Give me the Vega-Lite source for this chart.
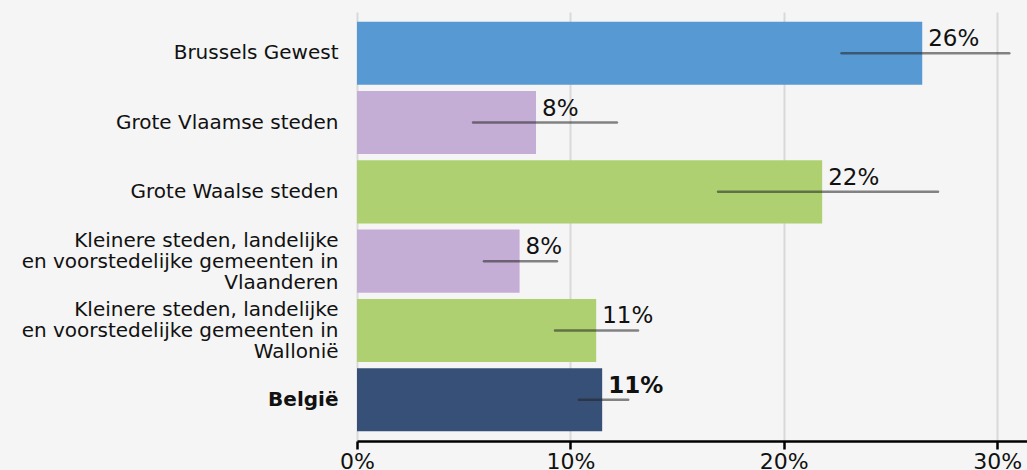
{
  "$schema": "https://vega.github.io/schema/vega-lite/v6.json",
  "autosize": {"type": "none"},
  "width": 670,
  "height": 429,
  "padding": {"left": 357, "top": 12, "right": 0, "bottom": 29},
  "background": "#f5f5f5",
  "config": {
    "view": {"stroke": null},
    "font": "DejaVu Sans"
  },
  "data": {
    "values": [
      {"regio": "Brussels Gewest", "waarde": 0.2649, "laag": 0.2271, "hoog": 0.3057, "groep": "Brussel"},
      {"regio": "Grote Vlaamse steden", "waarde": 0.0839, "laag": 0.0544, "hoog": 0.1218, "groep": "Vlaanderen"},
      {"regio": "Grote Waalse steden", "waarde": 0.218, "laag": 0.1692, "hoog": 0.2723, "groep": "Wallonië"},
      {"regio": "Kleinere steden, landelijke en voorstedelijke gemeenten in Vlaanderen", "waarde": 0.0762, "laag": 0.0595, "hoog": 0.0937, "groep": "Vlaanderen"},
      {"regio": "Kleinere steden, landelijke en voorstedelijke gemeenten in Wallonië", "waarde": 0.1121, "laag": 0.0928, "hoog": 0.1317, "groep": "Wallonië"},
      {"regio": "België", "waarde": 0.1149, "laag": 0.104, "hoog": 0.1271, "groep": "België"}
    ]
  },
  "encoding": {
    "y": {
      "field": "regio",
      "type": "nominal",
      "sort": null,
      "title": null,
      "scale": {"paddingInner": 0.09, "paddingOuter": 0.14},
      "axis": {
        "domain": false,
        "ticks": false,
        "labelFontSize": 20,
        "labelColor": "#111",
        "labelPadding": 19,
        "labelLimit": 400,
        "labelLineHeight": 21,
        "labelOffset": {"condition": {"test": "indexof(datum.value, 'Kleinere') >= 0", "value": -20}, "value": 0},
        "labelFontWeight": {"condition": {"test": "datum.value == 'België'", "value": "bold"}, "value": "normal"},
        "labelExpr": "indexof(datum.value, 'Vlaanderen') >= 0 && indexof(datum.value, 'Kleinere') >= 0 ? ['Kleinere steden, landelijke', 'en voorstedelijke gemeenten in', 'Vlaanderen'] : indexof(datum.value, 'Kleinere') >= 0 ? ['Kleinere steden, landelijke', 'en voorstedelijke gemeenten in', 'Wallonië'] : datum.value"
      }
    }
  },
  "layer": [
    {
      "mark": {"type": "bar"},
      "encoding": {
        "x": {
          "field": "waarde",
          "type": "quantitative",
          "title": null,
          "scale": {"domain": [0, 0.314], "nice": false},
          "axis": {
            "values": [0, 0.1, 0.2, 0.3],
            "format": ".0%",
            "grid": true,
            "gridColor": "#d9d9d9",
            "gridWidth": 2,
            "domainColor": "#000",
            "domainWidth": 2.5,
            "tickColor": "#000",
            "tickWidth": 2.5,
            "tickSize": 8,
            "labelFontSize": 22,
            "labelColor": "#111",
            "labelPadding": 2,
            "labelFlush": false
          }
        },
        "color": {
          "field": "groep",
          "type": "nominal",
          "legend": null,
          "scale": {
            "domain": ["Brussel", "Vlaanderen", "Wallonië", "België"],
            "range": ["#5799d3", "#c4aed5", "#aed071", "#365078"]
          }
        }
      }
    },
    {
      "mark": {"type": "rule", "color": "#222", "opacity": 0.55, "strokeWidth": 2.5, "strokeCap": "round"},
      "encoding": {
        "x": {"field": "laag", "type": "quantitative"},
        "x2": {"field": "hoog"}
      }
    },
    {
      "transform": [{"filter": "datum.regio != 'België'"}],
      "mark": {"type": "text", "align": "left", "baseline": "alphabetic", "dx": 6, "dy": -7, "fontSize": 23, "color": "#111"},
      "encoding": {
        "x": {"field": "waarde", "type": "quantitative"},
        "text": {"field": "waarde", "type": "quantitative", "format": ".0%"}
      }
    },
    {
      "transform": [{"filter": "datum.regio == 'België'"}],
      "mark": {"type": "text", "align": "left", "baseline": "alphabetic", "dx": 6, "dy": -7, "fontSize": 23, "fontWeight": "bold", "color": "#111"},
      "encoding": {
        "x": {"field": "waarde", "type": "quantitative"},
        "text": {"field": "waarde", "type": "quantitative", "format": ".0%"}
      }
    }
  ]
}
